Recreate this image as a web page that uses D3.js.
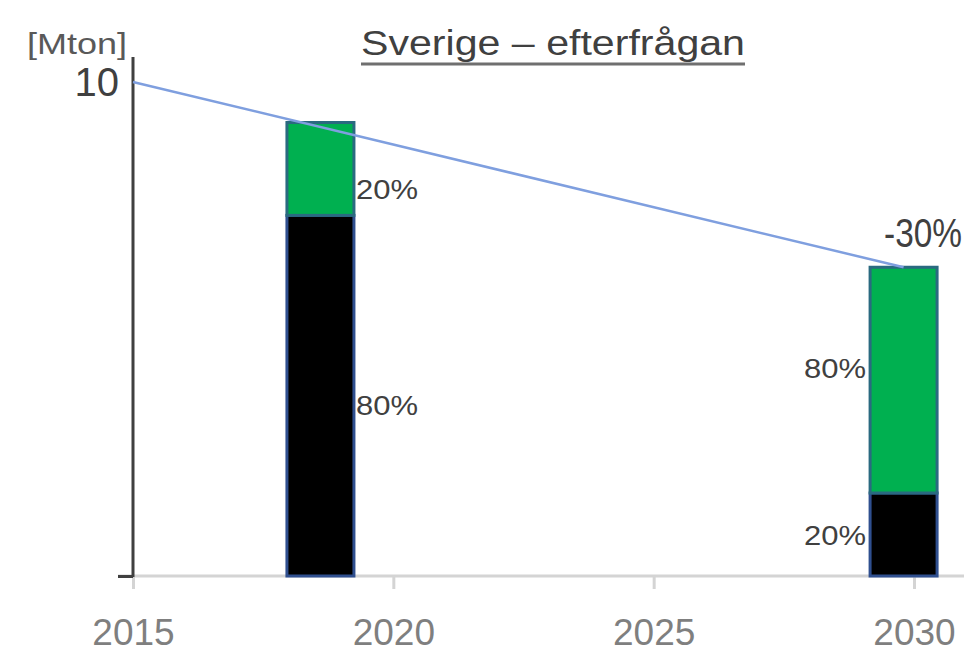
<!DOCTYPE html>
<html>
<head>
<meta charset="utf-8">
<script src="https://cdn.jsdelivr.net/npm/d3@7"></script>
<style>
body { margin: 0; background: #fff; }
svg { font-family: "Liberation Sans", Arial, sans-serif; }
</style>
</head>
<body>
<script>
// data
var tickYears = [2015, 2020, 2025, 2030];
var barYears = [2018.6, 2029.8];
var blackValues = [7.3, 1.68];
var greenValues = [1.88, 4.57];
var blackLabels = ["80%", "20%"];
var greenLabels = ["20%", "80%"];
var trendYears = [2015, 2029.8];
var trendValues = [10, 6.25];

var width = 964, height = 655;

var x = d3.scaleLinear().domain([2015, 2030]).range([133, 914]);
var y = d3.scaleLinear().domain([0, 10]).range([576, 82]);
var barW = 67;

var svg = d3.select("body").append("svg")
  .attr("width", width)
  .attr("height", height);

// x axis
var xAxis = d3.axisBottom(x)
  .tickValues(tickYears)
  .tickFormat(d3.format("d"))
  .tickSize(13)
  .tickPadding(30);

var gx = svg.append("g")
  .attr("transform", "translate(0," + y(0) + ")")
  .call(xAxis);
gx.select(".domain").attr("d", "M118,0H964").attr("stroke", "#d4d4d4").attr("stroke-width", 3);
gx.selectAll(".tick line").attr("stroke", "#d4d4d4").attr("stroke-width", 3);
gx.selectAll(".tick text")
  .attr("fill", "#7f7f7f")
  .style("font-size", "37px");

// y axis
var gy = svg.append("g")
  .attr("transform", "translate(" + x(2015) + ",0)")
  .call(d3.axisLeft(y).tickValues([0]).tickSize(15).tickFormat(""));
gy.select(".domain").attr("d", "M0,57V" + (y(0) + 1)).attr("stroke", "#404040").attr("stroke-width", 3);
gy.selectAll(".tick line").attr("stroke", "#404040").attr("stroke-width", 3);

svg.append("text")
  .attr("x", x(2015) - 14)
  .attr("y", y(10) + 14)
  .attr("text-anchor", "end")
  .attr("fill", "#404040")
  .style("font-size", "40px")
  .text("10");

svg.append("text")
  .attr("x", 27)
  .attr("y", 54)
  .attr("fill", "#595959")
  .attr("textLength", 100)
  .attr("lengthAdjust", "spacingAndGlyphs")
  .style("font-size", "29px")
  .text("[Mton]");

// title
var title = svg.append("text")
  .attr("x", 361)
  .attr("y", 55)
  .attr("fill", "#404040")
  .attr("textLength", 384)
  .attr("lengthAdjust", "spacingAndGlyphs")
  .style("font-size", "35px")
  .text("Sverige \u2013 efterfrågan");
svg.append("line")
  .attr("x1", 361).attr("x2", 361 + 384)
  .attr("y1", 64).attr("y2", 64)
  .attr("stroke", "#6f6f6f")
  .attr("stroke-width", 3);

// bars
var bars = barYears.map(function(yr, i) {
  return {year: yr, black: blackValues[i], green: greenValues[i], bl: blackLabels[i], gl: greenLabels[i], i: i};
});

var g = svg.selectAll("g.bar").data(bars).enter().append("g").attr("class", "bar");

g.append("rect")
  .attr("x", function(d) { return x(d.year) - barW / 2; })
  .attr("y", function(d) { return y(d.black); })
  .attr("width", barW)
  .attr("height", function(d) { return y(0) - y(d.black); })
  .attr("fill", "#000")
  .attr("stroke", "#2f4f8f")
  .attr("stroke-width", 3);

g.append("rect")
  .attr("x", function(d) { return x(d.year) - barW / 2; })
  .attr("y", function(d) { return y(d.black + d.green); })
  .attr("width", barW)
  .attr("height", function(d) { return y(d.black) - y(d.black + d.green); })
  .attr("fill", "#00b050")
  .attr("stroke", "#2a6a80")
  .attr("stroke-width", 3);

// segment labels: right of first bar, left of last bar
function labelX(d) { return d.i === 0 ? x(d.year) + barW / 2 + 2 : x(d.year) - barW / 2 - 4; }
function anchor(d) { return d.i === 0 ? "start" : "end"; }

g.append("text")
  .attr("x", labelX)
  .attr("y", function(d) { return y(d.black / 2) + 10 + (d.i === 0 ? 9 : 0); })
  .attr("text-anchor", anchor)
  .attr("fill", "#404040")
  .attr("textLength", 62)
  .attr("lengthAdjust", "spacingAndGlyphs")
  .style("font-size", "27px")
  .text(function(d) { return d.bl; });

g.append("text")
  .attr("x", labelX)
  .attr("y", function(d) { return y(d.black + d.green / 2) + 10 + (d.i === 0 ? 20 : -12); })
  .attr("text-anchor", anchor)
  .attr("fill", "#404040")
  .attr("textLength", 62)
  .attr("lengthAdjust", "spacingAndGlyphs")
  .style("font-size", "27px")
  .text(function(d) { return d.gl; });

// trend line
var trend = trendYears.map(function(yr, i) { return {year: yr, v: trendValues[i]}; });
svg.append("path")
  .datum(trend)
  .attr("fill", "none")
  .attr("stroke", "#7f9fdf")
  .attr("stroke-width", 2.5)
  .attr("d", d3.line().x(function(d) { return x(d.year); }).y(function(d) { return y(d.v); }));

svg.append("text")
  .attr("x", 884)
  .attr("y", 247)
  .attr("fill", "#404040")
  .attr("textLength", 78)
  .attr("lengthAdjust", "spacingAndGlyphs")
  .style("font-size", "40px")
  .text("-30%");
</script>
</body>
</html>
